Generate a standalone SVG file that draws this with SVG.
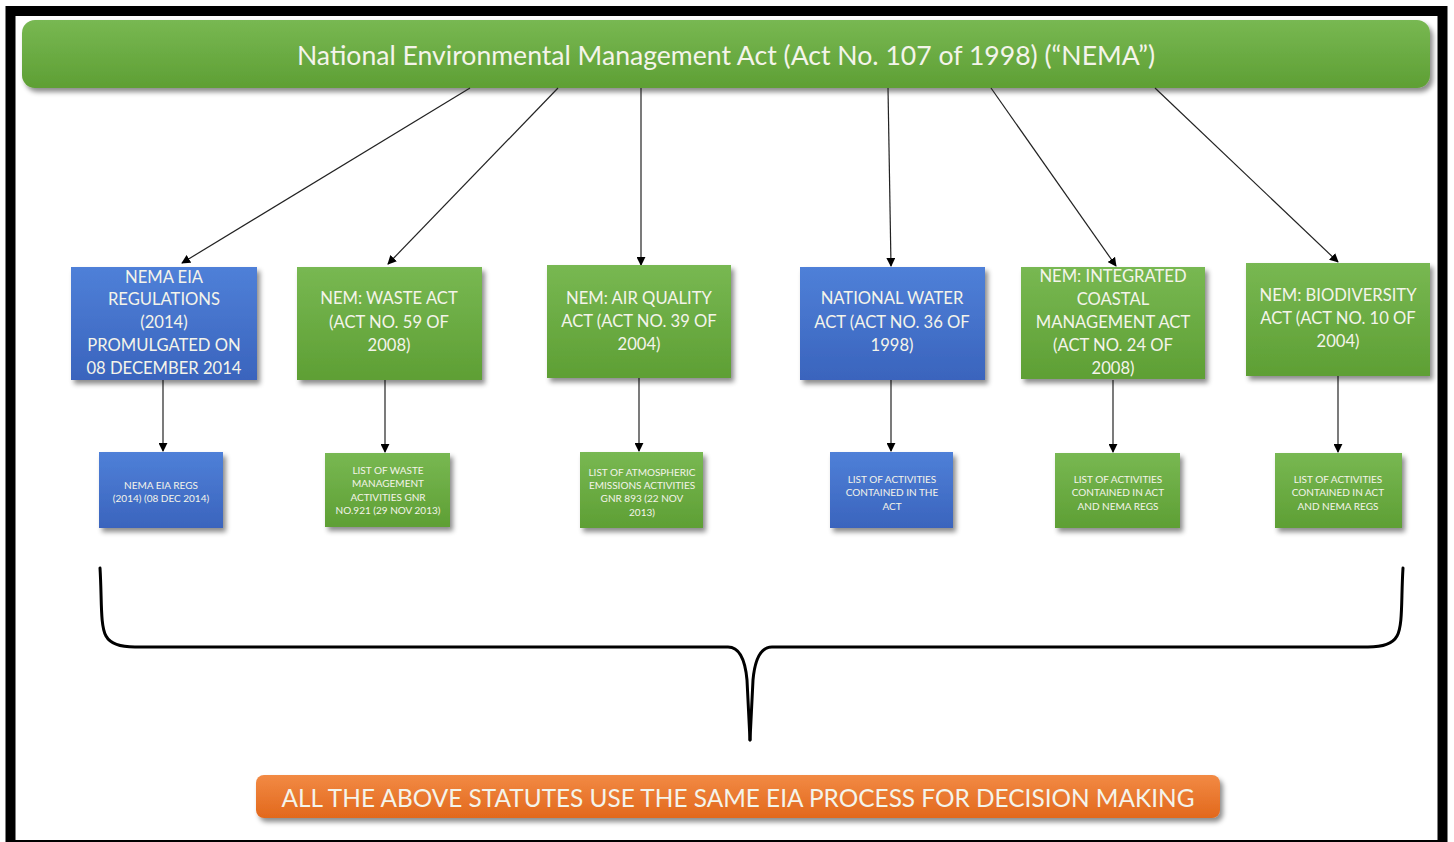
<svg xmlns="http://www.w3.org/2000/svg" width="1454" height="842" viewBox="0 0 1454 842">
<defs>
<linearGradient id="gGreen" x1="0" y1="0" x2="0" y2="1"><stop offset="0" stop-color="#78b852"/><stop offset="1" stop-color="#5e9f34"/></linearGradient>
<linearGradient id="gBlue" x1="0" y1="0" x2="0" y2="1"><stop offset="0" stop-color="#4f80d8"/><stop offset="1" stop-color="#3a64bd"/></linearGradient>
<linearGradient id="gOrange" x1="0" y1="0" x2="0" y2="1"><stop offset="0" stop-color="#f28a44"/><stop offset="1" stop-color="#e2681c"/></linearGradient>
<filter id="sh" x="-10%" y="-10%" width="125%" height="135%"><feDropShadow dx="3" dy="4" stdDeviation="2.5" flood-color="#000" flood-opacity="0.45"/></filter>
<marker id="arr" viewBox="0 0 10 10" refX="9" refY="5" markerWidth="9" markerHeight="9" markerUnits="userSpaceOnUse" orient="auto"><path d="M0,0 L10,5 L0,10 z" fill="#000"/></marker>
<style>
.t{font-family:Lato,"Liberation Sans",sans-serif;fill:#f4f4ea;text-anchor:middle;dominant-baseline:central}
.big{font-size:16.6px}
.small{font-size:10px}
.conn line{stroke:#222;stroke-width:1.2;marker-end:url(#arr)}
</style>
</defs>
<rect x="0" y="0" width="1454" height="842" fill="#fff"/>
<rect x="10.5" y="11" width="1432" height="834" fill="#fff" stroke="#000" stroke-width="10"/>

<g id="nema">
<rect x="22" y="20" width="1408" height="68" rx="13" fill="url(#gGreen)" filter="url(#sh)"/>
<text class="t" x="726" y="55" style="font-size:26.6px">National Environmental Management Act (Act No. 107 of 1998) (“NEMA”)</text>
</g>

<g class="conn" id="connectors">
<line x1="470" y1="88" x2="182" y2="263"/>
<line x1="558" y1="88" x2="388" y2="264"/>
<line x1="641" y1="88" x2="641" y2="265"/>
<line x1="888" y1="88" x2="891" y2="266"/>
<line x1="991" y1="88" x2="1116" y2="266"/>
<line x1="1155" y1="88" x2="1338" y2="262"/>
<line x1="163" y1="380" x2="163" y2="451"/>
<line x1="385" y1="380" x2="385" y2="452"/>
<line x1="639" y1="378" x2="639" y2="451"/>
<line x1="891" y1="380" x2="891" y2="451"/>
<line x1="1113" y1="380" x2="1113" y2="452"/>
<line x1="1338" y1="376" x2="1338" y2="452"/>
</g>

<g id="eia">
<rect x="71" y="267" width="186" height="113" fill="url(#gBlue)" filter="url(#sh)"/>
<text class="t big" x="164"><tspan x="164" y="277">NEMA EIA</tspan><tspan x="164" y="299">REGULATIONS</tspan><tspan x="164" y="322">(2014)</tspan><tspan x="164" y="345">PROMULGATED ON</tspan><tspan x="164" y="368">08 DECEMBER 2014</tspan></text>
</g>
<g id="waste">
<rect x="297" y="267" width="185" height="113" fill="url(#gGreen)" filter="url(#sh)"/>
<text class="t big"><tspan x="389" y="298">NEM: WASTE ACT</tspan><tspan x="389" y="322">(ACT NO. 59 OF</tspan><tspan x="389" y="345">2008)</tspan></text>
</g>
<g id="air">
<rect x="547" y="265" width="184" height="113" fill="url(#gGreen)" filter="url(#sh)"/>
<text class="t big"><tspan x="639" y="298">NEM: AIR QUALITY</tspan><tspan x="639" y="321">ACT (ACT NO. 39 OF</tspan><tspan x="639" y="344">2004)</tspan></text>
</g>
<g id="water">
<rect x="800" y="267" width="185" height="113" fill="url(#gBlue)" filter="url(#sh)"/>
<text class="t big"><tspan x="892" y="298">NATIONAL WATER</tspan><tspan x="892" y="322">ACT (ACT NO. 36 OF</tspan><tspan x="892" y="345">1998)</tspan></text>
</g>
<g id="coastal">
<rect x="1021" y="267" width="184" height="112" fill="url(#gGreen)" filter="url(#sh)"/>
<text class="t big"><tspan x="1113" y="276">NEM: INTEGRATED</tspan><tspan x="1113" y="299">COASTAL</tspan><tspan x="1113" y="322">MANAGEMENT ACT</tspan><tspan x="1113" y="345">(ACT NO. 24 OF</tspan><tspan x="1113" y="368">2008)</tspan></text>
</g>
<g id="biodiversity">
<rect x="1246" y="263" width="184" height="113" fill="url(#gGreen)" filter="url(#sh)"/>
<text class="t big"><tspan x="1338" y="295">NEM: BIODIVERSITY</tspan><tspan x="1338" y="318">ACT (ACT NO. 10 OF</tspan><tspan x="1338" y="341">2004)</tspan></text>
</g>

<g id="eia-regs">
<rect x="99" y="452" width="124" height="76" fill="url(#gBlue)" filter="url(#sh)"/>
<text class="t small"><tspan x="161" y="485">NEMA EIA REGS</tspan><tspan x="161" y="498">(2014) (08 DEC 2014)</tspan></text>
</g>
<g id="waste-list">
<rect x="325" y="453" width="125" height="74" fill="url(#gGreen)" filter="url(#sh)"/>
<text class="t small"><tspan x="388" y="470">LIST OF WASTE</tspan><tspan x="388" y="483">MANAGEMENT</tspan><tspan x="388" y="497">ACTIVITIES GNR</tspan><tspan x="388" y="510">NO.921 (29 NOV 2013)</tspan></text>
</g>
<g id="air-list">
<rect x="580" y="452" width="123" height="76" fill="url(#gGreen)" filter="url(#sh)"/>
<text class="t small"><tspan x="642" y="472">LIST OF ATMOSPHERIC</tspan><tspan x="642" y="485">EMISSIONS ACTIVITIES</tspan><tspan x="642" y="498">GNR 893 (22 NOV</tspan><tspan x="642" y="512">2013)</tspan></text>
</g>
<g id="water-list">
<rect x="830" y="452" width="123" height="76" fill="url(#gBlue)" filter="url(#sh)"/>
<text class="t small"><tspan x="892" y="479">LIST OF ACTIVITIES</tspan><tspan x="892" y="492">CONTAINED IN THE</tspan><tspan x="892" y="506">ACT</tspan></text>
</g>
<g id="coastal-list">
<rect x="1055" y="453" width="125" height="75" fill="url(#gGreen)" filter="url(#sh)"/>
<text class="t small"><tspan x="1118" y="479">LIST OF ACTIVITIES</tspan><tspan x="1118" y="492">CONTAINED IN ACT</tspan><tspan x="1118" y="506">AND NEMA REGS</tspan></text>
</g>
<g id="biodiversity-list">
<rect x="1275" y="453" width="127" height="75" fill="url(#gGreen)" filter="url(#sh)"/>
<text class="t small"><tspan x="1338" y="479">LIST OF ACTIVITIES</tspan><tspan x="1338" y="492">CONTAINED IN ACT</tspan><tspan x="1338" y="506">AND NEMA REGS</tspan></text>
</g>

<g id="brace" fill="none" stroke="#000" stroke-width="3" stroke-linecap="round">
<path d="M100,568 C102,600 100,625 106,636 Q112,647 135,647 L728,647 Q744,647 747,680 L750,740"/>
<path d="M1403,568 C1401,600 1403,625 1397,636 Q1391,647 1368,647 L772,647 Q756,647 753,680 L750,740"/>
</g>

<g id="conclusion">
<rect x="256" y="775" width="964" height="43" rx="8" fill="url(#gOrange)" filter="url(#sh)"/>
<text class="t" x="738" y="797" style="font-size:24.4px">ALL THE ABOVE STATUTES USE THE SAME EIA PROCESS FOR DECISION MAKING</text>
</g>
</svg>
